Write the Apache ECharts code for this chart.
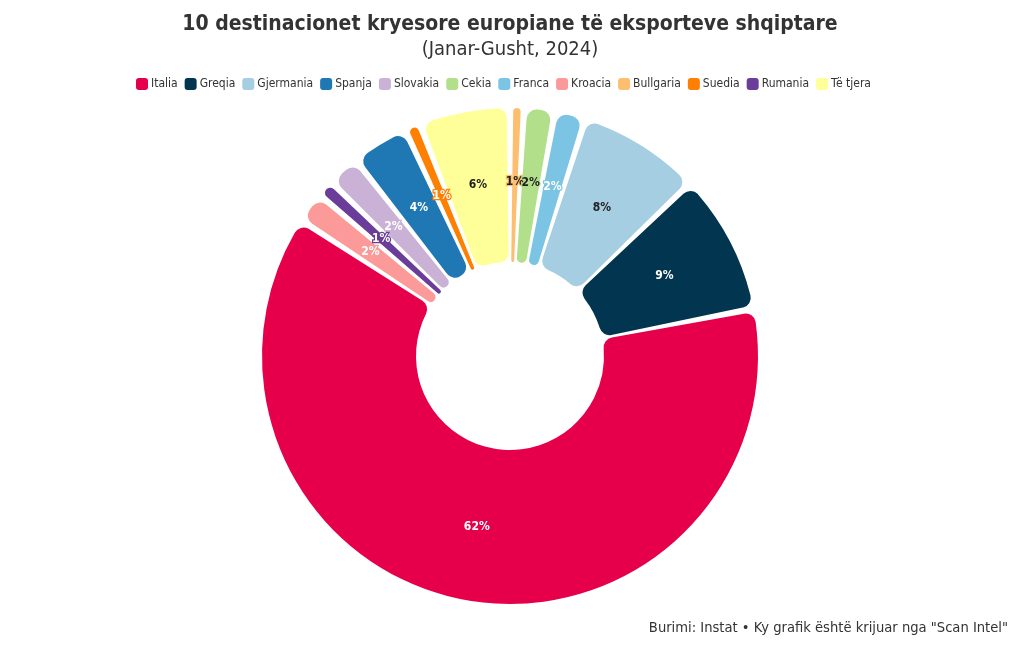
<!DOCTYPE html>
<html>
<head>
<meta charset="utf-8">
<script src="https://cdn.jsdelivr.net/npm/echarts@6/dist/echarts.min.js"></script>
<style>
  html, body { margin: 0; padding: 0; background: #fff; }
  #chart { width: 1020px; height: 650px; }
</style>
</head>
<body>
<div id="chart"></div>
<script>
// ---- Data (pie order, clockwise from 12 o'clock) ----
const categories = ['Bullgaria', 'Cekia', 'Franca', 'Gjermania', 'Greqia', 'Italia', 'Kroacia', 'Rumania', 'Slovakia', 'Spanja', 'Suedia', 'Të tjera'];
const shares = [0.9, 2.0, 2.0, 7.9, 9.1, 62.1, 2.0, 1.1, 2.1, 3.7, 1.0, 5.9];
// legend order
const legendOrder = ['Italia', 'Greqia', 'Gjermania', 'Spanja', 'Slovakia', 'Cekia', 'Franca', 'Kroacia', 'Bullgaria', 'Suedia', 'Rumania', 'Të tjera'];
const titleText = '10 destinacionet kryesore europiane të eksporteve shqiptare';
const subtitleText = '(Janar-Gusht, 2024)';
const sourceText = 'Burimi: Instat • Ky grafik është krijuar nga "Scan Intel"';

// ---- Styles ----
const FONT = "'DejaVu Sans Condensed', 'Roboto', sans-serif";
const sliceColors = {
  'Italia': '#e6004c', 'Greqia': '#02354f', 'Gjermania': '#a6cee3', 'Spanja': '#1f78b4',
  'Slovakia': '#cab2d6', 'Cekia': '#b2df8a', 'Franca': '#7cc4e4', 'Kroacia': '#fb9a99',
  'Bullgaria': '#fdbf6f', 'Suedia': '#ff7f00', 'Rumania': '#6a3d9a', 'Të tjera': '#ffff99'
};
const labelTextColors = {
  'Italia': '#ffffff', 'Greqia': '#ffffff', 'Gjermania': '#222222', 'Spanja': '#ffffff',
  'Slovakia': '#ffffff', 'Cekia': '#222222', 'Franca': '#ffffff', 'Kroacia': '#ffffff',
  'Bullgaria': '#222222', 'Suedia': '#ffffff', 'Rumania': '#ffffff', 'Të tjera': '#222222'
};

const pieData = categories.map((name, i) => ({
  name: name,
  value: shares[i],
  itemStyle: { color: sliceColors[name] },
  label: { color: labelTextColors[name], textBorderColor: sliceColors[name], textBorderWidth: 2.5 }
}));

const chart = echarts.init(document.getElementById('chart'), null, { renderer: 'canvas' });
chart.setOption({
  animation: false,
  backgroundColor: '#ffffff',
  title: [{
    text: titleText,
    subtext: subtitleText,
    left: 'center',
    top: 9,
    itemGap: 5,
    textStyle: { fontFamily: FONT, fontSize: 21, fontWeight: 'bold', color: '#333333' },
    subtextStyle: { fontFamily: FONT, fontSize: 20, color: '#333333' }
  }],
  legend: {
    data: legendOrder,
    top: 73,
    left: 131,
    icon: 'roundRect',
    itemWidth: 12,
    itemHeight: 12,
    itemGap: 7,
    textStyle: { fontFamily: FONT, fontSize: 12, color: '#333333', padding: [0, 0, 0, -2] }
  },
  graphic: [{
    type: 'text',
    right: 12,
    top: 621,
    style: { text: sourceText, font: "14.6px " + FONT, fill: '#333333' }
  }],
  series: [{
    type: 'pie',
    center: [510, 356],
    radius: [94, 248],
    startAngle: 90,
    clockwise: true,
    padAngle: 1.5,
    avoidLabelOverlap: false,
    itemStyle: { borderRadius: 10, borderWidth: 0 },
    label: {
      show: true,
      position: 'inside',
      fontFamily: FONT,
      fontSize: 12,
      fontWeight: 'bold',
      formatter: p => Math.round(p.percent) + '%'
    },
    labelLayout: { hideOverlap: false },
    labelLine: { show: false },
    emphasis: { disabled: true },
    data: pieData
  }]
});
</script>
</body>
</html>
